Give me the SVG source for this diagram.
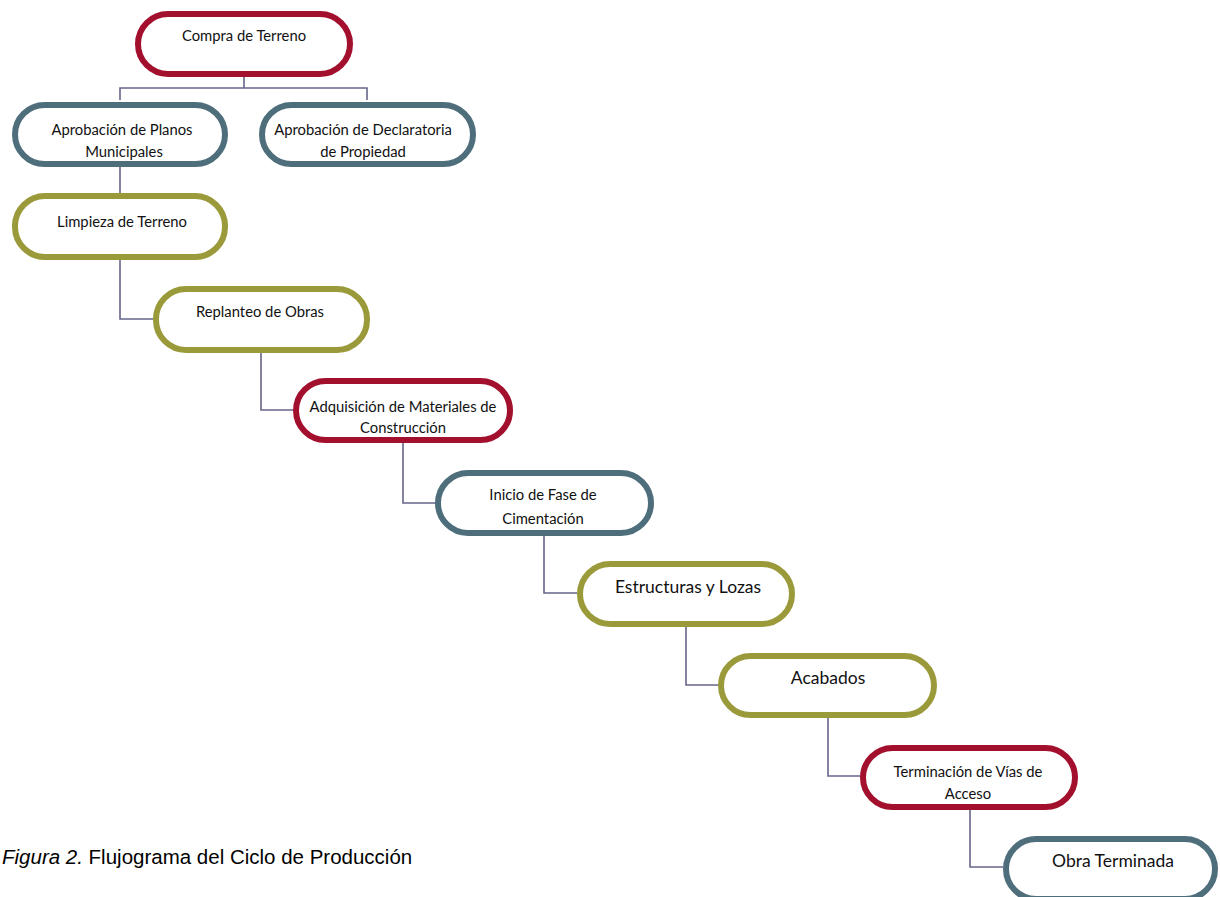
<svg xmlns="http://www.w3.org/2000/svg" width="1220" height="897" viewBox="0 0 1220 897">
<style>
.n{fill:#fff;stroke-width:6}
.r{stroke:#a3102e}
.b{stroke:#4f6e7c}
.o{stroke:#9b9a3a}
.t{font-family:Lato,"Open Sans","Liberation Sans",sans-serif;font-size:14.8px;fill:#111;text-anchor:middle}
.tl{font-size:17.5px}
.c{fill:none;stroke:#66668a;stroke-width:1.6}
.cap{font-family:"Liberation Sans",Arial,sans-serif;font-size:20.5px;fill:#000}
</style>
<rect width="1220" height="897" fill="#fff"/>
<g id="connectors">
<path class="c" d="M244 77V88M120 100V88H367V100"/>
<path class="c" d="M120 167V193"/>
<path class="c" d="M120 260V319H153"/>
<path class="c" d="M261 353V410H293"/>
<path class="c" d="M403 443V503H436"/>
<path class="c" d="M544 536V593H577"/>
<path class="c" d="M686 627V685H718"/>
<path class="c" d="M828 718V776H860"/>
<path class="c" d="M970 810V867H1003"/>
</g>
<g id="n1"><rect class="n r" x="138" y="14" width="212" height="60" rx="30"/><text class="t" x="244" y="41">Compra de Terreno</text></g>
<g id="n2"><rect class="n b" x="15" y="105" width="210" height="59" rx="29.5"/><text class="t" x="122" y="135">Aprobación de Planos</text><text class="t" x="124" y="157">Municipales</text></g>
<g id="n3"><rect class="n b" x="262" y="105" width="211" height="59" rx="29.5"/><text class="t" x="363" y="135">Aprobación de Declaratoria</text><text class="t" x="363" y="157">de Propiedad</text></g>
<g id="n4"><rect class="n o" x="15" y="196" width="210" height="61" rx="30"/><text class="t" x="122" y="227">Limpieza de Terreno</text></g>
<g id="n5"><rect class="n o" x="156" y="289" width="211" height="61" rx="30"/><text class="t" x="260" y="317">Replanteo de Obras</text></g>
<g id="n6"><rect class="n r" x="296" y="381" width="214" height="59" rx="29.5"/><text class="t" x="403" y="412">Adquisición de Materiales de</text><text class="t" x="403" y="433">Construcción</text></g>
<g id="n7"><rect class="n b" x="438" y="473" width="213" height="60" rx="30"/><text class="t" x="543" y="500">Inicio de Fase de</text><text class="t" x="543" y="524">Cimentación</text></g>
<g id="n8"><rect class="n o" x="580" y="564" width="212" height="60" rx="30"/><text class="t tl" x="688" y="593">Estructuras y Lozas</text></g>
<g id="n9"><rect class="n o" x="721" y="656" width="213" height="59" rx="29.5"/><text class="t tl" x="828" y="684">Acabados</text></g>
<g id="n10"><rect class="n r" x="863" y="748" width="212" height="59" rx="29.5"/><text class="t" x="968" y="777">Terminación de Vías de</text><text class="t" x="968" y="799">Acceso</text></g>
<g id="n11"><rect class="n b" x="1006" y="839" width="209" height="60" rx="30"/><text class="t tl" x="1113" y="867">Obra Terminada</text></g>
<text class="cap" x="2" y="864"><tspan font-style="italic">Figura 2.</tspan> Flujograma del Ciclo de Producción</text>
</svg>
